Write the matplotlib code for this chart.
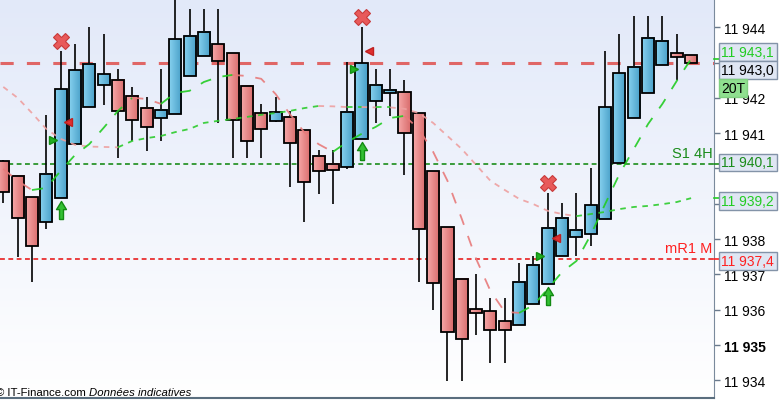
import numpy as np
import matplotlib
matplotlib.use("Agg")
import matplotlib.pyplot as plt
from matplotlib.patches import Rectangle
from matplotlib.colors import LinearSegmentedColormap

plt.rcParams["font.family"] = ["Liberation Sans", "DejaVu Sans"]
plt.rcParams["lines.scale_dashes"] = False

# --- data ---
opens = [11940.20, 11939.78, 11939.18, 11938.48, 11939.16, 11940.69, 11941.73, 11942.36, 11942.50, 11942.05,
         11941.71, 11941.42, 11941.54, 11942.61, 11943.18, 11943.52, 11943.26, 11942.33, 11941.56, 11941.34,
         11941.45, 11941.08, 11940.35, 11940.12, 11940.03, 11940.83, 11941.90, 11942.13, 11942.16, 11941.56,
         11939.92, 11938.33, 11936.86, 11936.01, 11935.95, 11935.67, 11935.56, 11936.15, 11936.72, 11937.51,
         11938.05, 11938.14, 11938.56, 11940.16, 11941.42, 11942.13, 11942.92, 11943.26, 11943.21]
highs = [11940.25, 11939.80, 11939.18, 11941.52, 11943.33, 11943.53, 11944.00, 11943.81, 11942.82, 11942.31,
         11942.02, 11942.82, 11944.90, 11944.52, 11944.52, 11944.52, 11943.26, 11942.33, 11941.82, 11942.02,
         11941.62, 11941.08, 11940.52, 11940.52, 11943.01, 11944.00, 11942.81, 11942.81, 11942.51, 11941.56,
         11939.92, 11938.33, 11936.86, 11937.01, 11936.33, 11936.33, 11937.32, 11937.51, 11939.30, 11939.01,
         11939.30, 11940.01, 11943.34, 11943.81, 11944.31, 11944.31, 11944.31, 11943.81, 11943.21]
lows = [11939.01, 11937.50, 11936.79, 11938.29, 11939.16, 11940.69, 11941.73, 11941.81, 11940.31, 11940.79,
        11940.50, 11940.79, 11941.54, 11942.61, 11943.18, 11941.30, 11940.31, 11940.31, 11940.31, 11941.31,
        11939.48, 11938.49, 11939.29, 11939.00, 11939.99, 11940.83, 11941.30, 11941.50, 11939.81, 11936.79,
        11936.00, 11933.99, 11933.99, 11935.29, 11934.50, 11934.50, 11935.56, 11936.15, 11936.72, 11937.51,
        11937.51, 11937.81, 11938.56, 11940.16, 11941.42, 11942.13, 11942.92, 11942.50, 11943.00]
closes = [11939.33, 11938.59, 11937.80, 11939.84, 11942.24, 11942.78, 11942.95, 11942.67, 11941.62, 11941.37,
          11941.17, 11941.65, 11943.66, 11943.75, 11943.86, 11943.04, 11941.37, 11940.77, 11941.11, 11941.59,
          11940.71, 11939.61, 11939.92, 11939.95, 11941.59, 11942.98, 11942.36, 11942.22, 11941.00, 11938.28,
          11936.75, 11935.36, 11935.16, 11935.90, 11935.42, 11935.42, 11936.78, 11937.26, 11938.31, 11938.59,
          11938.25, 11938.96, 11941.73, 11942.70, 11942.87, 11943.69, 11943.60, 11943.15, 11943.00]

fast_ma = [11939.99, 11939.65, 11939.39, 11939.45, 11939.93, 11940.38, 11940.69, 11941.15, 11941.63, 11942.00,
           11941.97, 11941.83, 11942.14, 11942.20, 11942.45, 11942.59, 11942.65, 11942.62, 11942.54, 11942.11,
           11941.54, 11941.03, 11940.69, 11940.47, 11940.75, 11940.98, 11941.18, 11941.43, 11941.49, 11941.12,
           11940.47, 11939.65, 11938.57, 11937.44, 11936.53, 11935.94, 11935.91, 11936.13, 11936.59, 11937.07,
           11937.38, 11938.12, 11938.99, 11939.84, 11940.55, 11941.26, 11941.83, 11942.48, 11943.10]
slow_ma = [11942.31, 11942.00, 11941.57, 11941.12, 11940.84, 11940.67, 11940.62, 11940.61, 11940.60, 11940.78,
           11940.86, 11940.92, 11941.03, 11941.12, 11941.29, 11941.35, 11941.40, 11941.46, 11941.52, 11941.57,
           11941.63, 11941.71, 11941.77, 11941.76, 11941.74, 11941.74, 11941.73, 11941.73, 11941.69, 11941.57,
           11941.29, 11940.92, 11940.55, 11940.10, 11939.65, 11939.39, 11939.14, 11938.99, 11938.80, 11938.71,
           11938.65, 11938.71, 11938.77, 11938.85, 11938.91, 11938.94, 11938.99, 11939.05, 11939.16]

signal_idx = [4, 25, 38]
cross_prices = [11943.61, 11944.29, 11939.59]
arrow_prices = [11938.83, 11940.50, 11936.39]
red_tri_prices = [11941.31, 11943.33, 11938.03]
green_tri_prices = [11940.81, 11942.82, 11937.52]

s1_level = 11940.13
mr1_level = 11937.43
y_ticks = list(range(11934, 11945))
hidden_ticks = [11943, 11940, 11939]   # covered by the value boxes

# --- figure ---
W, H = 779, 402
fig = plt.figure(figsize=(W / 100, H / 100), dpi=100)
fig.patch.set_facecolor("white")
ax = fig.add_axes([0, 3 / H, 714 / W, 399 / H])

x = np.arange(len(opens))

bg = np.linspace(0, 1, 256).reshape(-1, 1)
bg_cmap = LinearSegmentedColormap.from_list("bg", ["#ffffff", "#e2e9f9"])
ax.imshow(bg, extent=[0, 1, 1, 0], transform=ax.transAxes, cmap=bg_cmap,
          aspect="auto", zorder=0, interpolation="bilinear")

blue_cmap = LinearSegmentedColormap.from_list("b", ["#86d0ee", "#479fc8"])
red_cmap = LinearSegmentedColormap.from_list("r", ["#f6a8a8", "#d86a6a"])
hgrad = np.linspace(0, 1, 32).reshape(1, -1)
bw = 0.84

for i in x:
    o, h, l, c = opens[i], highs[i], lows[i], closes[i]
    ax.vlines(i, l, h, color="black", lw=1.2, zorder=2)
    lo, hi = min(o, c), max(o, c)
    cmap = blue_cmap if c >= o else red_cmap
    ax.imshow(hgrad, extent=[i - bw / 2, i + bw / 2, lo, hi], cmap=cmap,
              aspect="auto", zorder=3, interpolation="bilinear")
    ax.add_patch(Rectangle((i - bw / 2, lo), bw, hi - lo, fill=False,
                           ec="black", lw=1.3, zorder=4))


def trend_line(vals, up_col, down_col, dashes, lw, alpha, z):
    n = len(vals)
    i = 0
    while i < n - 1:
        up = vals[i + 1] >= vals[i]
        j = i
        while j < n - 1 and (vals[j + 1] >= vals[j]) == up:
            j += 1
        ax.plot(x[i:j + 1], vals[i:j + 1], color=up_col if up else down_col,
                dashes=dashes, lw=lw, alpha=alpha, zorder=z)
        i = j


trend_line(slow_ma, "#2ccc2c", "#eea0a0", (4, 4), 1.3, 0.9, 5)
trend_line(fast_ma, "#22cc22", "#e87a7a", (8, 8.5), 1.3, 0.9, 5)

# horizontal levels
ax.axhline(closes[-1], color="#e06666", lw=2.2, dashes=(9.5, 9.5), zorder=1)
ax.axhline(s1_level, color="#1a8c1a", lw=1.2, dashes=(3.5, 2.5), zorder=1)
ax.axhline(mr1_level, color="#e82020", lw=1.2, dashes=(3.5, 2.5), zorder=1)
ax.text(0.998, s1_level + 0.12, "S1 4H", transform=ax.get_yaxis_transform(),
        ha="right", va="bottom", color="#1a8c1a", fontsize=10.5, zorder=6)
ax.text(0.998, mr1_level + 0.12, "mR1 M", transform=ax.get_yaxis_transform(),
        ha="right", va="bottom", color="#ff2020", fontsize=10.5, zorder=6)

# signal markers
arrow = [(-0.22, -1), (0.22, -1), (0.22, 0.1), (0.55, 0.1), (0, 1),
         (-0.55, 0.1), (-0.22, 0.1), (-0.22, -1)]
sx = np.array(signal_idx)
ax.plot(sx, cross_prices, ls="none", marker="X", ms=11, mfc="#e85a5a",
        mec="#c83a3a", mew=0.8, zorder=7)
ax.plot(sx, arrow_prices, ls="none", marker=arrow, ms=13, mfc="#33c033",
        mec="#138a13", mew=1, zorder=7)
ax.plot(sx + 0.55, red_tri_prices, ls="none", marker="<", ms=6,
        mfc="#e03030", mec="#c02020", zorder=7)
ax.plot(sx - 0.55, green_tri_prices, ls="none", marker=">", ms=6,
        mfc="#22b022", mec="#129012", zorder=7)

ax.set_xlim(-0.23, 49.6)
ax.set_ylim(11933.50, 11944.80)

# axes styling
ax.set_xticks([])
ax.yaxis.tick_right()
ax.set_yticks(y_ticks)
ax.set_yticklabels(["" if v in hidden_ticks else f"{v:,}".replace(",", " ")
                    for v in y_ticks])
ax.tick_params(axis="y", direction="out", length=4, width=1, color="#6a7a8c",
               pad=3, labelsize=10, labelcolor="black")
for lab in ax.get_yticklabels():
    if lab.get_text() == "11 935":
        lab.set_fontweight("bold")
for s in ["left", "top"]:
    ax.spines[s].set_visible(False)
ax.spines["right"].set_color("#7a8a9c")
ax.spines["bottom"].set_color("#5a6e7e")
ax.spines["bottom"].set_linewidth(1.5)


# value boxes on the price scale
def py(v):
    return ax.transData.transform((0, v))[1]


def fmt(v):
    return f"{v:,.1f}".replace(",", " ").replace(".", ",")


boxes = [
    (fast_ma[-1], 6.8, "#22cc22"),
    (closes[-1], -7.2, "black"),
    (s1_level, 1.5, "#1a8c1a"),
    (slow_ma[-1], -3.0, "#22cc22"),
    (mr1_level, -2.0, "#ff2020"),
]
for v, off, col in boxes:
    yc = py(v) + off
    fig.patches.append(Rectangle((719 / W, (yc - 8.8) / H), 58 / W, 17.6 / H,
                                 transform=fig.transFigure, fc="#dfe6f3",
                                 ec="#8393a8", lw=1, zorder=5))
    fig.text(721 / W, yc / H, fmt(v), color=col, fontsize=10, va="center",
             ha="left", zorder=6)
    if col != "black":
        fig.lines.append(plt.Line2D([714 / W, 719 / W], [py(v) / H] * 2,
                                    transform=fig.transFigure, color=col, lw=1.2))

yc20 = py(closes[-1]) - 7.2 - 18
fig.patches.append(Rectangle((719 / W, (yc20 - 8.8) / H), 28 / W, 17.6 / H,
                             transform=fig.transFigure, fc="#8fe08f",
                             ec="#80d080", lw=1, zorder=5))
fig.text(721 / W, yc20 / H, "20T", color="black", fontsize=10, va="center",
         ha="left", zorder=6)

fig.text(-4 / W, 6 / H, "© IT-Finance.com", fontsize=8.2, va="baseline", ha="left")
fig.text(89 / W, 6 / H, "Données indicatives", fontsize=8.2, va="baseline",
         ha="left", style="italic")

fig.savefig("out.png", dpi=100)
